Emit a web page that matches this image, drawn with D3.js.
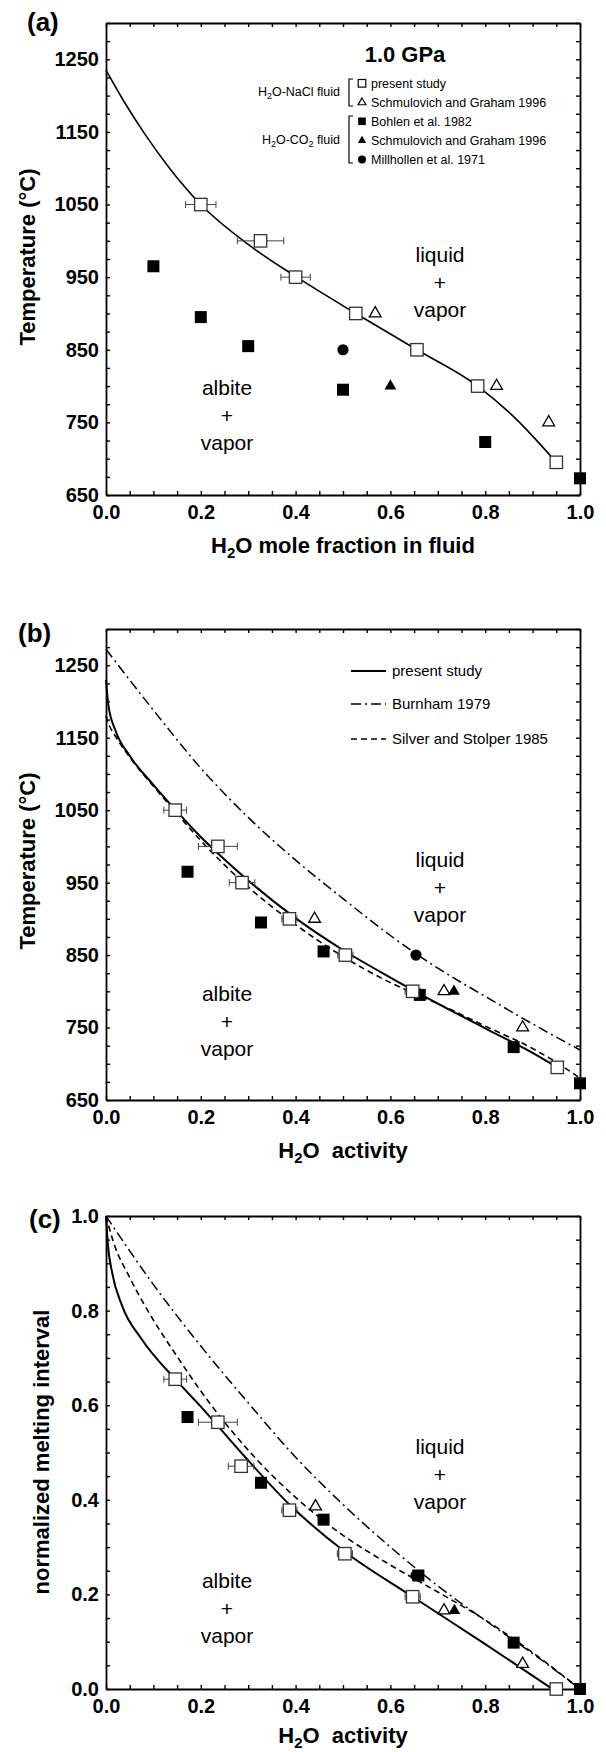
<!DOCTYPE html>
<html>
<head>
<meta charset="utf-8">
<script src="https://cdn.jsdelivr.net/npm/d3@7"></script>
<style>
body { margin: 0; background: #fff; }
svg { display: block; font-family: "Liberation Sans", Arial, Helvetica, sans-serif; }
</style>
</head>
<body>
<svg id="chart" width="606" height="1752"></svg>
<script>
// ---- panel (a): H2O mole fraction in fluid vs temperature ----
const aPresentX = [0.20, 0.326, 0.40, 0.527, 0.656, 0.784, 0.95];
const aPresentT = [1050, 1000, 950, 900, 850, 800, 695];
const aPresentErr = [0.032, 0.049, 0.031, 0.010, 0.010, 0.010, 0];
const aNaclTriX = [0.568, 0.824, 0.934];
const aNaclTriT = [900, 800, 750];
const aBohlenX = [0.10, 0.20, 0.30, 0.50, 0.80, 1.00];
const aBohlenT = [965, 895, 855, 795, 723, 673];
const aCo2TriX = [0.60];
const aCo2TriT = [800];
const aMillX = [0.50];
const aMillT = [850];
const aCurveX = [0, 0.036, 0.081, 0.134, 0.20, 0.30, 0.40, 0.527, 0.656, 0.784, 0.86, 0.95];
const aCurveT = [1235, 1194, 1148, 1100, 1050, 995, 951, 900, 850, 800, 758, 695];

// ---- panel (b): H2O activity vs temperature ----
const bPresentX = [0.146, 0.236, 0.287, 0.387, 0.505, 0.647, 0.952];
const bPresentT = [1050, 1000, 950, 900, 850, 800, 695];
const bPresentErr = [0.024, 0.041, 0.027, 0.016, 0.016, 0.016, 0];
const bNaclTriX = [0.44, 0.713, 0.879];
const bNaclTriT = [900, 800, 750];
const bBohlenX = [0.172, 0.327, 0.459, 0.662, 0.860, 1.0];
const bBohlenT = [965, 895, 855, 795, 723, 673];
const bCo2TriX = [0.734];
const bCo2TriT = [800];
const bMillX = [0.654];
const bMillT = [850];
const bSolidX = [0, 0.005, 0.02, 0.05, 0.1, 0.15, 0.2, 0.25, 0.3, 0.4, 0.5, 0.6, 0.7, 0.8, 0.9, 0.952];
const bSolidT = [1230, 1195, 1160, 1125, 1085, 1048, 1013, 982, 953, 901, 857, 819, 783, 749, 715, 695];
const bDashX = [0, 0.005, 0.02, 0.05, 0.1, 0.15, 0.2, 0.3, 0.4, 0.5, 0.6, 0.65, 0.7, 0.8, 0.9, 0.95, 1.0];
const bDashT = [1180, 1170, 1152, 1123, 1083, 1045, 1008, 944, 892, 848, 812, 797, 783, 752, 721, 702, 680];
const bDotX = [0, 0.1, 0.2, 0.3, 0.4, 0.5, 0.6, 0.7, 0.8, 0.9, 1.0];
const bDotT = [1272, 1188, 1108, 1040, 981, 928, 877, 832, 793, 755, 719];

// ---- panel (c): H2O activity vs normalized melting interval ----
const cPresentX = [0.146, 0.236, 0.285, 0.387, 0.504, 0.647, 0.950];
const cPresentV = [0.655, 0.564, 0.471, 0.378, 0.286, 0.195, 0.0];
const cPresentErr = [0.024, 0.041, 0.027, 0.016, 0.016, 0.016, 0];
const cNaclTriX = [0.442, 0.713, 0.879];
const cNaclTriV = [0.386, 0.166, 0.053];
const cBohlenX = [0.172, 0.327, 0.459, 0.659, 0.860, 1.0];
const cBohlenV = [0.575, 0.436, 0.358, 0.240, 0.098, 0.0];
const cCo2TriX = [0.735];
const cCo2TriV = [0.166];
const cMillX = [0.654];
const cMillV = [0.240];
const cSolidX = [0, 0.004, 0.013, 0.034, 0.075, 0.146, 0.2, 0.285, 0.387, 0.504, 0.647, 0.8, 0.942];
const cSolidV = [1.0, 0.94, 0.88, 0.81, 0.74, 0.655, 0.597, 0.50, 0.39, 0.29, 0.195, 0.095, 0];
const cDashX = [0, 0.016, 0.05, 0.1, 0.15, 0.2, 0.3, 0.4, 0.5, 0.6, 0.7, 0.8, 0.9, 1.0];
const cDashV = [1.0, 0.944, 0.87, 0.78, 0.703, 0.63, 0.505, 0.405, 0.325, 0.262, 0.205, 0.146, 0.077, 0];
const cDotX = [0, 0.1, 0.2, 0.3, 0.4, 0.5, 0.6, 0.7, 0.8, 0.9, 1.0];
const cDotV = [1.0, 0.855, 0.725, 0.605, 0.49, 0.39, 0.30, 0.218, 0.145, 0.075, 0];

// tick values
const xTicks = d3.range(0, 1.0001, 0.05);
const xLabels = [0, 0.2, 0.4, 0.6, 0.8, 1.0];
const tTicks = d3.range(650, 1300.1, 25);
const tLabels = [650, 750, 850, 950, 1050, 1150, 1250];
const vTicks = d3.range(0, 1.0001, 0.05);
const vLabels = [0, 0.2, 0.4, 0.6, 0.8, 1.0];

const svg = d3.select("#chart");
const left = 106, right = 580;

function near(list, d) {
  return list.some((v) => Math.abs(v - d) < 1e-6);
}

function zip(a, b) {
  return a.map((v, i) => [v, b[i]]);
}

function panel(o) {
  var x = d3.scaleLinear().domain([0, 1]).range([left, right]);
  var y = d3.scaleLinear().domain(o.yDomain).range([o.bottom, o.top]);
  var g = svg.append("g");

  var ax = [
    g.append("g").attr("transform", "translate(0," + o.bottom + ")")
      .call(d3.axisBottom(x).tickValues(xTicks).tickSizeInner(-4).tickSizeOuter(0).tickPadding(10)
        .tickFormat((d) => (near(xLabels, d) ? d3.format(".1f")(d) : ""))),
    g.append("g").attr("transform", "translate(0," + o.top + ")")
      .call(d3.axisTop(x).tickValues(xTicks).tickSizeInner(-4).tickSizeOuter(0).tickFormat("")),
    g.append("g").attr("transform", "translate(" + left + ",0)")
      .call(d3.axisLeft(y).tickValues(o.yTicks).tickSizeInner(-4).tickSizeOuter(0).tickPadding(7)
        .tickFormat((d) => (near(o.yLabels, d) ? o.yFormat(d) : ""))),
    g.append("g").attr("transform", "translate(" + right + ",0)")
      .call(d3.axisRight(y).tickValues(o.yTicks).tickSizeInner(-4).tickSizeOuter(0).tickFormat(""))
  ];
  ax.forEach(function (a) {
    a.select(".domain").attr("stroke", "#000").attr("stroke-width", 1.8);
    a.selectAll(".tick line").attr("stroke", "#000").attr("stroke-width", 1.4);
    a.selectAll("text").attr("font-family", null).attr("font-size", 20)
      .attr("font-weight", "bold").attr("fill", "#000");
  });

  var line = d3.line().x((d) => x(d[0])).y((d) => y(d[1])).curve(d3.curveMonotoneX);
  o.curves.forEach(function (c) {
    g.append("path").datum(c.data).attr("d", line).attr("fill", "none")
      .attr("stroke", "#000").attr("stroke-width", c.width)
      .attr("stroke-dasharray", c.dash || null);
  });

  // error bars for present study
  var eb = g.append("g").attr("stroke", "#444").attr("stroke-width", 1);
  o.present.forEach(function (d) {
    if (!d[2]) return;
    var x0 = x(d[0] - d[2]), x1 = x(d[0] + d[2]), yy = y(d[1]);
    eb.append("line").attr("x1", x0).attr("x2", x1).attr("y1", yy).attr("y2", yy);
    eb.append("line").attr("x1", x0).attr("x2", x0).attr("y1", yy - 3.5).attr("y2", yy + 3.5);
    eb.append("line").attr("x1", x1).attr("x2", x1).attr("y1", yy - 3.5).attr("y2", yy + 3.5);
  });

  var tri = d3.symbol(d3.symbolTriangle, 60);
  g.selectAll(".otri").data(o.naclTri).enter().append("path")
    .attr("d", tri).attr("transform", (d) => "translate(" + x(d[0]) + "," + y(d[1]) + ")")
    .attr("fill", "#fff").attr("stroke", "#000").attr("stroke-width", 1.3);
  g.selectAll(".ftri").data(o.co2Tri).enter().append("path")
    .attr("d", tri).attr("transform", (d) => "translate(" + x(d[0]) + "," + y(d[1]) + ")")
    .attr("fill", "#000");
  g.selectAll(".fsq").data(o.bohlen).enter().append("rect")
    .attr("x", (d) => x(d[0]) - 6).attr("y", (d) => y(d[1]) - 6)
    .attr("width", 12).attr("height", 12).attr("fill", "#000");
  g.selectAll(".circ").data(o.mill).enter().append("circle")
    .attr("cx", (d) => x(d[0])).attr("cy", (d) => y(d[1])).attr("r", 5.6).attr("fill", "#000");
  g.selectAll(".osq").data(o.present).enter().append("rect")
    .attr("x", (d) => x(d[0]) - 6.2).attr("y", (d) => y(d[1]) - 6.2)
    .attr("width", 12.4).attr("height", 12.4)
    .attr("fill", "#fff").attr("stroke", "#333").attr("stroke-width", 1.3);

  // panel letter
  g.append("text").attr("x", o.letterX).attr("y", o.letterY)
    .attr("font-size", 26).attr("font-weight", "bold").text(o.letter);

  // axis titles
  var xt = g.append("text").attr("x", (left + right) / 2).attr("y", o.xTitleY)
    .attr("text-anchor", "middle").attr("font-size", 22).attr("font-weight", "bold")
    .style("white-space", "pre");
  xt.append("tspan").text("H");
  xt.append("tspan").attr("font-size", 15).attr("dy", 5).text("2");
  xt.append("tspan").attr("dy", -5).text(o.xTitleRest);

  g.append("text")
    .attr("transform", "translate(" + o.yTitleX + "," + o.yTitleY + ") rotate(-90)")
    .attr("text-anchor", "middle").attr("font-size", 22).attr("font-weight", "bold")
    .text(o.yTitle);

  // field labels
  [["liquid", "+", "vapor", 440, o.liqY], ["albite", "+", "vapor", 227, o.albY]].forEach(function (f) {
    [0, 1, 2].forEach(function (i) {
      g.append("text").attr("x", f[3]).attr("y", f[4] + i * 27.5).attr("dy", "0.35em")
        .attr("text-anchor", "middle").attr("font-size", 21).text(f[i]);
    });
  });

  return { g: g, x: x, y: y };
}

// (a)
var pa = panel({
  top: 23, bottom: 495, yDomain: [650, 1300], yTicks: tTicks, yLabels: tLabels, yFormat: d3.format("d"),
  curves: [{ data: zip(aCurveX, aCurveT), width: 1.6 }],
  present: aPresentX.map((v, i) => [v, aPresentT[i], aPresentErr[i]]),
  naclTri: zip(aNaclTriX, aNaclTriT), co2Tri: zip(aCo2TriX, aCo2TriT),
  bohlen: zip(aBohlenX, aBohlenT), mill: zip(aMillX, aMillT),
  letter: "(a)", letterX: 27, letterY: 31,
  xTitleY: 553, xTitleRest: "O mole fraction in fluid",
  yTitleX: 35, yTitleY: 257, yTitle: "Temperature (°C)",
  liqY: 255, albY: 388
});

// legend (a)
var la = pa.g.append("g");
la.append("text").attr("x", 405).attr("y", 62).attr("text-anchor", "middle")
  .attr("font-size", 22).attr("font-weight", "bold").text("1.0 GPa");
var legA = [
  ["osq", "present study", 84],
  ["otri", "Schmulovich and Graham 1996", 103],
  ["fsq", "Bohlen et al. 1982", 122],
  ["ftri", "Schmulovich and Graham 1996", 141],
  ["circ", "Millhollen et al. 1971", 160]
];
legA.forEach(function (d) {
  var mx = 362, my = d[2];
  if (d[0] === "osq") la.append("rect").attr("x", mx - 3.8).attr("y", my - 4.5).attr("width", 7.6).attr("height", 7.6)
    .attr("fill", "#fff").attr("stroke", "#000").attr("stroke-width", 1.2);
  if (d[0] === "fsq") la.append("rect").attr("x", mx - 3.8).attr("y", my - 4.5).attr("width", 7.6).attr("height", 7.6).attr("fill", "#000");
  if (d[0] === "otri") la.append("path").attr("d", d3.symbol(d3.symbolTriangle, 26)())
    .attr("transform", "translate(" + mx + "," + (my - 0.5) + ")").attr("fill", "#fff").attr("stroke", "#000").attr("stroke-width", 1.2);
  if (d[0] === "ftri") la.append("path").attr("d", d3.symbol(d3.symbolTriangle, 30)())
    .attr("transform", "translate(" + mx + "," + (my - 0.5) + ")").attr("fill", "#000");
  if (d[0] === "circ") la.append("circle").attr("cx", mx).attr("cy", my - 0.5).attr("r", 4).attr("fill", "#000");
  la.append("text").attr("x", 371).attr("y", my).attr("dy", "0.35em").attr("font-size", 12.5).text(d[1]);
});
[[79, 106], [116, 163]].forEach(function (b) {
  la.append("path").attr("d", "M353," + b[0] + "H349V" + b[1] + "H353")
    .attr("fill", "none").attr("stroke", "#000").attr("stroke-width", 1.2);
});
[["NaCl fluid", "", 92], ["CO", "2", 140]].forEach(function (d, i) {
  var t = la.append("text").attr("x", 340).attr("y", d[2]).attr("dy", "0.35em")
    .attr("text-anchor", "end").attr("font-size", 12.5);
  t.append("tspan").text("H");
  t.append("tspan").attr("font-size", 9).attr("dy", 3).text("2");
  if (i === 0) {
    t.append("tspan").attr("dy", -3).text("O-NaCl fluid");
  } else {
    t.append("tspan").attr("dy", -3).text("O-CO");
    t.append("tspan").attr("font-size", 9).attr("dy", 3).text("2");
    t.append("tspan").attr("dy", -3).text(" fluid");
  }
});

// (b)
var pb = panel({
  top: 629, bottom: 1100, yDomain: [650, 1300], yTicks: tTicks, yLabels: tLabels, yFormat: d3.format("d"),
  curves: [
    { data: zip(bDotX, bDotT), width: 1.5, dash: "10,4,2,4" },
    { data: zip(bDashX, bDashT), width: 1.6, dash: "6,4" },
    { data: zip(bSolidX, bSolidT), width: 2 }
  ],
  present: bPresentX.map((v, i) => [v, bPresentT[i], bPresentErr[i]]),
  naclTri: zip(bNaclTriX, bNaclTriT), co2Tri: zip(bCo2TriX, bCo2TriT),
  bohlen: zip(bBohlenX, bBohlenT), mill: zip(bMillX, bMillT),
  letter: "(b)", letterX: 18, letterY: 642,
  xTitleY: 1158, xTitleRest: "O  activity",
  yTitleX: 35, yTitleY: 861, yTitle: "Temperature (°C)",
  liqY: 860, albY: 994
});

// legend (b)
var lb = pb.g.append("g");
[["present study", 671, null, 2], ["Burnham 1979", 704, "10,4,2,4", 1.5], ["Silver and Stolper 1985", 739, "6,4", 1.6]]
  .forEach(function (d) {
    lb.append("line").attr("x1", 351).attr("x2", 386).attr("y1", d[1]).attr("y2", d[1])
      .attr("stroke", "#000").attr("stroke-width", d[3]).attr("stroke-dasharray", d[2]);
    lb.append("text").attr("x", 392).attr("y", d[1]).attr("dy", "0.35em").attr("font-size", 15).text(d[0]);
  });

// (c)
panel({
  top: 1216, bottom: 1689, yDomain: [0, 1], yTicks: vTicks, yLabels: vLabels, yFormat: d3.format(".1f"),
  curves: [
    { data: zip(cDotX, cDotV), width: 1.5, dash: "10,4,2,4" },
    { data: zip(cDashX, cDashV), width: 1.6, dash: "6,4" },
    { data: zip(cSolidX, cSolidV), width: 2 }
  ],
  present: cPresentX.map((v, i) => [v, cPresentV[i], cPresentErr[i]]),
  naclTri: zip(cNaclTriX, cNaclTriV), co2Tri: zip(cCo2TriX, cCo2TriV),
  bohlen: zip(cBohlenX, cBohlenV), mill: zip(cMillX, cMillV),
  letter: "(c)", letterX: 29, letterY: 1228,
  xTitleY: 1743, xTitleRest: "O  activity",
  yTitleX: 49, yTitleY: 1452, yTitle: "normalized melting interval",
  liqY: 1447, albY: 1581
});
</script>
</body>
</html>
